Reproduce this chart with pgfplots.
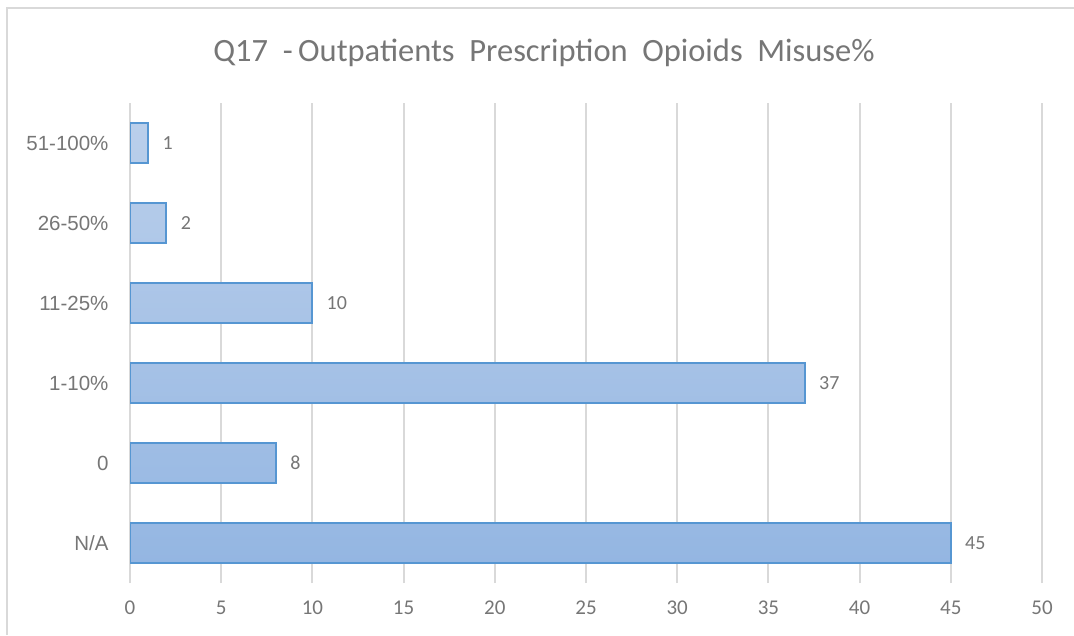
\documentclass[border=0pt]{standalone}
\usepackage{pgfplots}
\pgfplotsset{compat=1.18}
\usepackage{fontspec}
\setmainfont{Carlito}
\newfontfamily\arialf{Liberation Sans}
\definecolor{txt}{RGB}{118,118,118}
\definecolor{gridc}{RGB}{217,217,217}
\definecolor{edge}{RGB}{86,150,210}
\definecolor{topc}{RGB}{186,207,235}
\definecolor{botc}{RGB}{148,182,226}
\begin{document}
\begin{tikzpicture}[x=1pt,y=1pt]
\useasboundingbox (0,0) rectangle (1074,635);
\draw[gridc, line width=2pt] (7,0) -- (7,627) -- (1074,627);
\node[txt, font=\fontsize{32.5}{36}\selectfont] at (544,582) {Q17\ \ -\,Outpatients\ \ Prescription\ \ Opioids\ \ Misuse\%};
\begin{axis}[
  xbar,
  at={(130pt,52pt)}, anchor=south west,
  scale only axis, width=912pt, height=480pt,
  xmin=0, xmax=50, ymin=-0.5, ymax=5.5,
  xtick={0,5,...,50}, ytick={0,...,5},
  yticklabels={N/A,0,1-10\%,11-25\%,26-50\%,51-100\%},
  axis line style={draw=none}, tick style={draw=none},
  major tick length=0pt,
  xmajorgrids, grid style={gridc, line width=2pt},
  xticklabel style={txt, font=\fontsize{21}{25}\selectfont, yshift=-14pt},
  yticklabel style={txt, font=\arialf\fontsize{20.5}{24}\selectfont, xshift=-18pt},
  /pgf/number format/assume math mode=true,
  nodes near coords,
  nodes near coords style={anchor=west, xshift=10pt, txt, font=\fontsize{20}{24}\selectfont},
]
\addplot[xbar, bar width=40pt, draw=edge, line width=2pt, top color=topc, bottom color=botc]
  coordinates {(45,0) (8,1) (37,2) (10,3) (2,4) (1,5)};
\end{axis}
\end{tikzpicture}
\end{document}
